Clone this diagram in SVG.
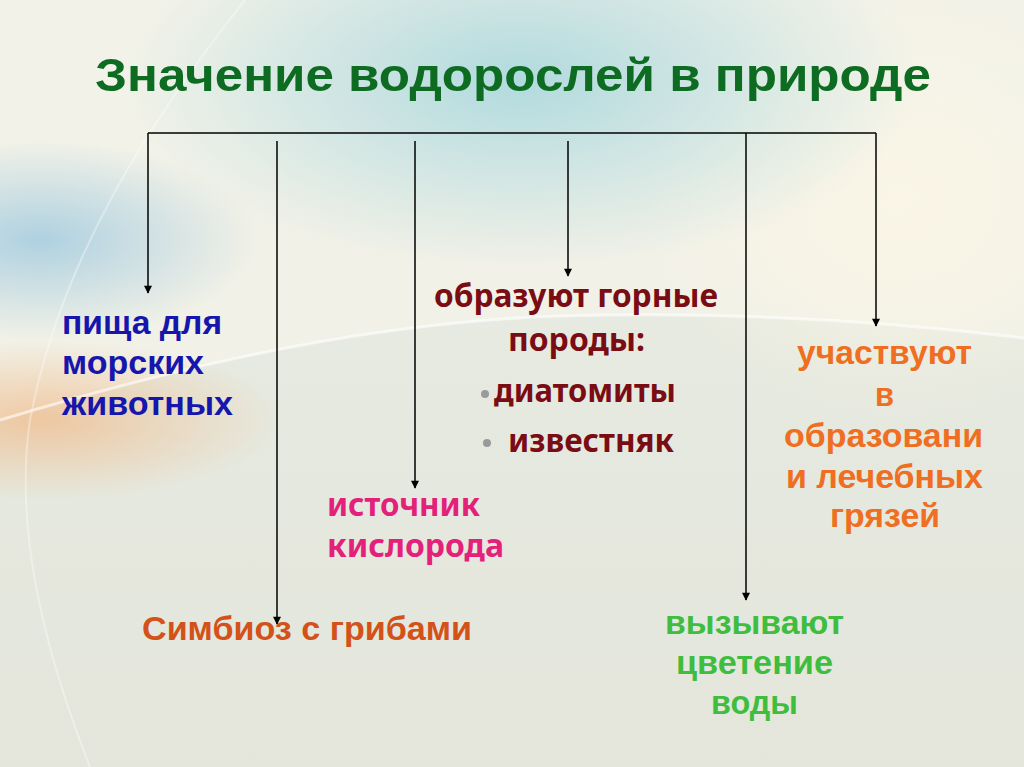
<svg xmlns="http://www.w3.org/2000/svg" width="1024" height="767" viewBox="0 0 1024 767">
<style>
.a{font-family:"Liberation Sans",Arial,sans-serif;font-weight:bold;font-size:33px}
.c{font-family:"Noto Sans","Open Sans",sans-serif;font-weight:bold;font-size:32px}
.ln{stroke:#000;stroke-width:1.5;fill:none}
</style>
<defs>
<marker id="arr" viewBox="0 0 10 10" refX="9" refY="5" markerWidth="9" markerHeight="8" markerUnits="userSpaceOnUse" orient="auto">
<path d="M0,0 L10,5 L0,10 z" fill="#000"/>
</marker>
<radialGradient id="teal" cx="0.5" cy="0.5" r="0.5">
<stop offset="0" stop-color="#a6d6dd" stop-opacity="0.85"/>
<stop offset="1" stop-color="#a6d6dd" stop-opacity="0"/>
</radialGradient>
<radialGradient id="blue" cx="0.5" cy="0.5" r="0.5">
<stop offset="0" stop-color="#98c6de" stop-opacity="0.75"/>
<stop offset="1" stop-color="#98c6de" stop-opacity="0"/>
</radialGradient>
<radialGradient id="orng" cx="0.5" cy="0.5" r="0.5">
<stop offset="0" stop-color="#f0bc8c" stop-opacity="0.75"/>
<stop offset="1" stop-color="#f0bc8c" stop-opacity="0"/>
</radialGradient>
<radialGradient id="cream" cx="0.5" cy="0.5" r="0.5">
<stop offset="0" stop-color="#fbf6e6" stop-opacity="0.9"/>
<stop offset="1" stop-color="#fbf6e6" stop-opacity="0"/>
</radialGradient>
<linearGradient id="base" x1="0" y1="0" x2="0" y2="1">
<stop offset="0" stop-color="#eef0e6"/>
<stop offset="0.5" stop-color="#e6e9df"/>
<stop offset="1" stop-color="#e4e6dc"/>
</linearGradient>
</defs>
<g id="background">
<rect x="0" y="0" width="1024" height="767" fill="url(#base)"/>
<path d="M0,0 H1024 V338 C860,318 700,312 560,316 C380,322 200,360 0,420 Z" fill="#f4f2e8" opacity="0.8"/>
<ellipse cx="900" cy="200" rx="260" ry="220" fill="url(#cream)"/>
<ellipse cx="520" cy="80" rx="400" ry="190" fill="url(#teal)"/>
<ellipse cx="40" cy="240" rx="220" ry="100" fill="url(#blue)"/>
<ellipse cx="40" cy="420" rx="240" ry="80" fill="url(#orng)"/>
<path d="M0,420 C200,360 380,322 560,316 C700,312 860,318 1024,338" stroke="#ffffff" stroke-width="3" fill="none" opacity="0.6"/>
<path d="M245,0 C150,120 60,260 30,420 C15,520 40,640 90,767" stroke="#ffffff" stroke-width="2" fill="none" opacity="0.35"/>
</g>
<g id="title">
<text x="95" y="91" font-family="Liberation Sans,Arial,sans-serif" font-weight="bold" font-size="47" fill="#0e6b22" textLength="836" lengthAdjust="spacingAndGlyphs">Значение водорослей в природе</text>
</g>
<g id="connectors">
<path class="ln" d="M148,133 H876"/>
<path class="ln" d="M148,133 V293" marker-end="url(#arr)"/>
<path class="ln" d="M277,141 V624" marker-end="url(#arr)"/>
<path class="ln" d="M415,141 V488" marker-end="url(#arr)"/>
<path class="ln" d="M568,141 V276" marker-end="url(#arr)"/>
<path class="ln" d="M746,133 V600" marker-end="url(#arr)"/>
<path class="ln" d="M876,133 V326" marker-end="url(#arr)"/>
</g>
<g id="node-food" class="a" fill="#1616ac">
<text x="62" y="334" textLength="160" lengthAdjust="spacingAndGlyphs">пища для</text>
<text x="62" y="374" textLength="142" lengthAdjust="spacingAndGlyphs">морских</text>
<text x="62" y="415" textLength="171" lengthAdjust="spacingAndGlyphs">животных</text>
</g>
<g id="node-rocks" class="c" fill="#7a0c14">
<text x="434" y="307" textLength="284" lengthAdjust="spacingAndGlyphs">образуют горные</text>
<text x="508" y="351" textLength="137" lengthAdjust="spacingAndGlyphs">породы:</text>
<circle cx="485" cy="394" r="4" fill="#9a9a9a"/>
<text x="494" y="402" textLength="182" lengthAdjust="spacingAndGlyphs">диатомиты</text>
<circle cx="487" cy="443" r="4" fill="#9a9a9a"/>
<text x="508" y="452" textLength="166" lengthAdjust="spacingAndGlyphs">известняк</text>
</g>
<g id="node-mud" class="a" fill="#ef6e22">
<text x="797" y="364" textLength="175" lengthAdjust="spacingAndGlyphs">участвуют</text>
<text x="875" y="406" textLength="19" lengthAdjust="spacingAndGlyphs">в</text>
<text x="784" y="447" textLength="199" lengthAdjust="spacingAndGlyphs">образовани</text>
<text x="786" y="488" textLength="197" lengthAdjust="spacingAndGlyphs">и лечебных</text>
<text x="830" y="527" textLength="110" lengthAdjust="spacingAndGlyphs">грязей</text>
</g>
<g id="node-oxygen" class="c" fill="#e4217a">
<text x="327" y="516" textLength="153" lengthAdjust="spacingAndGlyphs">источник</text>
<text x="327" y="557" textLength="177" lengthAdjust="spacingAndGlyphs">кислорода</text>
</g>
<g id="node-symbiosis" class="a" fill="#d2521a">
<text x="142" y="640" textLength="330" lengthAdjust="spacingAndGlyphs">Симбиоз с грибами</text>
</g>
<g id="node-bloom" class="a" fill="#3fbd3f">
<text x="665" y="634" textLength="179" lengthAdjust="spacingAndGlyphs">вызывают</text>
<text x="676" y="674" textLength="157" lengthAdjust="spacingAndGlyphs">цветение</text>
<text x="711" y="714" textLength="87" lengthAdjust="spacingAndGlyphs">воды</text>
</g>
</svg>
